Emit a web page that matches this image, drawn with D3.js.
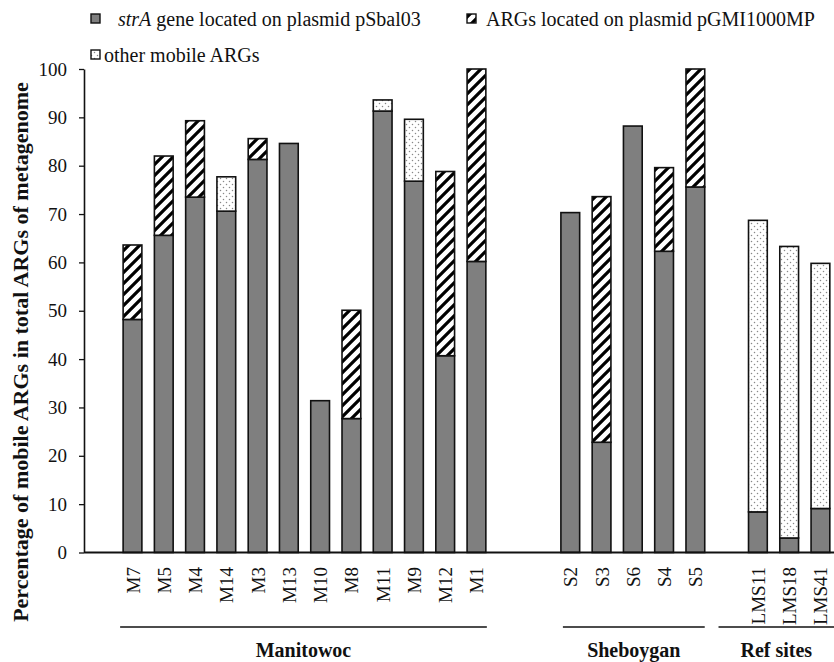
<!DOCTYPE html>
<html><head><meta charset="utf-8">
<script src="https://cdn.jsdelivr.net/npm/d3@7"></script>
<style>body{margin:0;background:#fff}svg{display:block}text{font-family:"Liberation Serif","Times New Roman",serif}</style>
</head><body>
<script>
const categories = ["M7","M5","M4","M14","M3","M13","M10","M8","M11","M9","M12","M1","S2","S3","S6","S4","S5","LMS11","LMS18","LMS41"];
const strA  = [48.2,65.6,73.5,70.6,81.3,84.6,31.4,27.7,91.3,76.8,40.7,60.2,70.3,22.8,88.2,62.3,75.6,8.4,3.0,9.1];
const pGMI  = [15.4,16.4,15.8,0,4.3,0,0,22.4,0,0,38.1,39.8,0,50.8,0,17.3,24.4,0,0,0];
const other = [0,0,0,7.1,0,0,0,0,2.3,12.8,0,0,0,0,0,0,0,60.3,60.3,50.7];
const yTicks = [0,10,20,30,40,50,60,70,80,90,100];
const groupNames = ["Manitowoc","Sheboygan","Ref sites"];
const groupMembers = [categories.slice(0,12), categories.slice(12,17), categories.slice(17)];
const seriesNames = ["strA gene located on plasmid pSbal03","ARGs located on plasmid pGMI1000MP","other mobile ARGs"];

const W=834,H=662;
const svg=d3.select("body").append("svg").attr("width",W).attr("height",H);
const defs=svg.append("defs");
const P=11;
const hp=defs.append("pattern").attr("id","hatch").attr("patternUnits","userSpaceOnUse").attr("width",P).attr("height",P);
hp.append("rect").attr("width",P).attr("height",P).attr("fill","#fff");
hp.append("path").attr("d",`M-3,3 L3,-3 M0,${P} L${P},0 M${P-3},${P+3} L${P+3},${P-3}`).attr("stroke","#000").attr("stroke-width",3.2);
const dp=defs.append("pattern").attr("id","dots").attr("patternUnits","userSpaceOnUse").attr("width",6).attr("height",6);
dp.append("rect").attr("width",6).attr("height",6).attr("fill","#fff");
dp.append("circle").attr("cx",1.5).attr("cy",1.5).attr("r",0.75).attr("fill","#888");
dp.append("circle").attr("cx",4.5).attr("cy",4.5).attr("r",0.75).attr("fill","#888");
const fills=["#7f7f7f","url(#hatch)","url(#dots)"];

// slots incl. blank gaps
const slots=[...groupMembers[0],"_g1","_g2",...groupMembers[1],"_g3",...groupMembers[2]];
const step=31.27, x0=132.5-step/2;
const x=d3.scaleBand().domain(slots).range([x0,x0+step*slots.length]).paddingInner(0.4).paddingOuter(0.2);
const y=d3.scaleLinear().domain([0,100]).range([552.5,69]);
const bw=x.bandwidth();

const rows=categories.map((c,i)=>({cat:c,s0:strA[i],s1:pGMI[i],s2:other[i]}));
const stack=d3.stack().keys(["s0","s1","s2"])(rows);
stack.forEach((layer,k)=>{
  svg.append("g").selectAll("rect").data(layer.filter(d=>d[1]-d[0]>0)).join("rect")
    .attr("x",d=>x(d.data.cat)).attr("width",bw)
    .attr("y",d=>y(d[1])).attr("height",d=>y(d[0])-y(d[1]))
    .attr("fill",fills[k]).attr("stroke","#111").attr("stroke-width",1.6);
});

// y axis
const ya=svg.append("g").attr("transform","translate(84,0)").call(d3.axisLeft(y).tickValues(yTicks).tickSize(5).tickPadding(12).tickSizeOuter(0));
ya.attr("font-family",null);
ya.select(".domain").attr("stroke","#111").attr("stroke-width",1.6);
ya.selectAll(".tick line").attr("stroke","#111").attr("stroke-width",1.3);
ya.selectAll(".tick text").attr("font-size",19).attr("fill","#111");
// x baseline
svg.append("line").attr("x1",84).attr("x2",W).attr("y1",y(0)).attr("y2",y(0)).attr("stroke","#111").attr("stroke-width",1.8);

// category labels
svg.append("g").selectAll("text").data(categories).join("text")
  .attr("transform",d=>`translate(${x(d)+bw/2+7},567) rotate(-90)`)
  .attr("text-anchor","end").attr("font-size",19).attr("fill","#111").text(d=>d);

// group lines
const gl=[[x(groupMembers[0][0])-3,x(groupMembers[0][11])+bw+1],[x(groupMembers[1][0])+2,x(groupMembers[1][4])+bw],[x(groupMembers[2][0])-30,W]];
groupNames.forEach((g,i)=>{
  svg.append("line").attr("x1",gl[i][0]).attr("x2",gl[i][1]).attr("y1",627).attr("y2",627).attr("stroke","#111").attr("stroke-width",1.5);
  svg.append("text").attr("x",(gl[i][0]+gl[i][1])/2).attr("y",657).attr("text-anchor","middle")
    .attr("font-size",20).attr("font-weight","bold").attr("fill","#111").text(g);
});

// y title
svg.append("text").attr("transform","translate(28,352) rotate(-90)").attr("text-anchor","middle")
  .attr("font-size",22).attr("font-weight","bold").attr("fill","#111")
  .text("Percentage of mobile ARGs in total ARGs of metagenome");

// legend
const leg=[{x:91,y:14,k:0},{x:467,y:14,k:1},{x:91,y:50,k:2}];
leg.forEach(l=>{
  svg.append("rect").attr("x",l.x).attr("y",l.y).attr("width",9).attr("height",9).attr("fill",fills[l.k]).attr("stroke","#111").attr("stroke-width",1.4);
});
const t0=svg.append("text").attr("x",118).attr("y",26).attr("font-size",20).attr("fill","#111");
t0.append("tspan").attr("font-style","italic").text("strA");
t0.append("tspan").text(" gene located on plasmid pSbal03");
svg.append("text").attr("x",486).attr("y",26).attr("font-size",20).attr("fill","#111").text(seriesNames[1]);
svg.append("text").attr("x",104).attr("y",62).attr("font-size",20).attr("fill","#111").text(seriesNames[2]);
</script>
</body></html>
